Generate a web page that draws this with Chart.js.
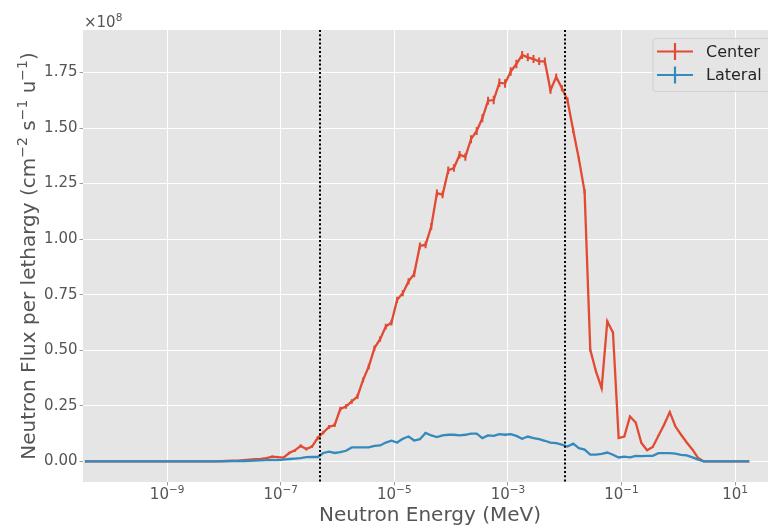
<!DOCTYPE html>
<html lang="en">
<head>
    <meta charset="UTF-8">
    <title>Neutron flux per lethargy</title>
    <script src="https://cdn.jsdelivr.net/npm/chart.js"></script>
    <style>
        html, body {
            margin: 0;
            padding: 0;
            background: #ffffff;
            overflow: hidden;
        }
        .wrap {
            position: relative;
            width: 777px;
            height: 526px;
        }
    </style>
</head>
<body>
    <div class="wrap"><canvas id="chart"></canvas></div>

    <script>
        // energy bin centres (MeV), ten per decade
        const energies = [
            3.55e-11, 4.47e-11, 5.62e-11, 7.08e-11, 8.91e-11,
            1.12e-10, 1.41e-10, 1.78e-10, 2.24e-10, 2.82e-10, 3.55e-10, 4.47e-10, 5.62e-10, 7.08e-10, 8.91e-10,
            1.12e-9, 1.41e-9, 1.78e-9, 2.24e-9, 2.82e-9, 3.55e-9, 4.47e-9, 5.62e-9, 7.08e-9, 8.91e-9,
            1.12e-8, 1.41e-8, 1.78e-8, 2.24e-8, 2.82e-8, 3.55e-8, 4.47e-8, 5.62e-8, 7.08e-8, 8.91e-8,
            1.12e-7, 1.41e-7, 1.78e-7, 2.24e-7, 2.82e-7, 3.55e-7, 4.47e-7, 5.62e-7, 7.08e-7, 8.91e-7,
            1.12e-6, 1.41e-6, 1.78e-6, 2.24e-6, 2.82e-6, 3.55e-6, 4.47e-6, 5.62e-6, 7.08e-6, 8.91e-6,
            1.12e-5, 1.41e-5, 1.78e-5, 2.24e-5, 2.82e-5, 3.55e-5, 4.47e-5, 5.62e-5, 7.08e-5, 8.91e-5,
            1.12e-4, 1.41e-4, 1.78e-4, 2.24e-4, 2.82e-4, 3.55e-4, 4.47e-4, 5.62e-4, 7.08e-4, 8.91e-4,
            1.12e-3, 1.41e-3, 1.78e-3, 2.24e-3, 2.82e-3, 3.55e-3, 4.47e-3, 5.62e-3, 7.08e-3, 8.91e-3,
            1.12e-2, 1.41e-2, 1.78e-2, 2.24e-2, 2.82e-2, 3.55e-2, 4.47e-2, 5.62e-2, 7.08e-2, 8.91e-2,
            0.112, 0.141, 0.178, 0.224, 0.282, 0.355, 0.447, 0.562, 0.708, 0.891,
            1.12, 1.41, 1.78, 2.24, 2.82, 3.55, 4.47, 5.62, 7.08, 8.91,
            11.2, 14.1, 17.8
        ];

        // flux per lethargy, units of 1e8 cm^-2 s^-1 u^-1
        const centerFlux = [
            0, 0, 0, 0, 0,
            0, 0, 0, 0, 0, 0, 0, 0, 0, 0,
            0, 0, 0, 0, 0, 0, 0, 0, 0, 0.001,
            0.002, 0.003, 0.004, 0.006, 0.008, 0.010, 0.012, 0.015, 0.022, 0.019,
            0.017, 0.038, 0.050, 0.070, 0.056, 0.067, 0.105, 0.130, 0.155, 0.164,
            0.236, 0.247, 0.270, 0.292, 0.367, 0.427, 0.510, 0.550, 0.607, 0.625,
            0.727, 0.757, 0.810, 0.844, 0.970, 0.974, 1.057, 1.207, 1.200, 1.310,
            1.320, 1.380, 1.370, 1.450, 1.487, 1.544, 1.623, 1.626, 1.704, 1.700,
            1.754, 1.788, 1.829, 1.818, 1.810, 1.800, 1.800, 1.670, 1.730, 1.680,
            1.625, 1.490, 1.360, 1.214, 0.502, 0.405, 0.330, 0.630, 0.580, 0.105,
            0.112, 0.202, 0.175, 0.083, 0.050, 0.065, 0.116, 0.165, 0.222, 0.157,
            0.120, 0.085, 0.053, 0.015, 0, 0, 0, 0, 0, 0,
            0, 0, 0
        ];
        const centerErr = [
            0, 0, 0, 0, 0,
            0, 0, 0, 0, 0, 0, 0, 0, 0, 0,
            0, 0, 0, 0, 0, 0, 0, 0, 0, 0.001,
            0.001, 0.002, 0.002, 0.002, 0.003, 0.003, 0.003, 0.004, 0.005, 0.005,
            0.005, 0.006, 0.006, 0.007, 0.007, 0.007, 0.008, 0.008, 0.009, 0.009,
            0.010, 0.010, 0.010, 0.011, 0.011, 0.012, 0.012, 0.012, 0.013, 0.013,
            0.014, 0.014, 0.014, 0.015, 0.015, 0.015, 0.016, 0.016, 0.016, 0.017,
            0.017, 0.017, 0.017, 0.018, 0.018, 0.018, 0.018, 0.019, 0.019, 0.019,
            0.019, 0.019, 0.018, 0.018, 0.018, 0.017, 0.017, 0.016, 0.015, 0.014,
            0.013, 0.012, 0.011, 0.010, 0.006, 0.005, 0.004, 0.005, 0.005, 0.002,
            0.002, 0.003, 0.003, 0.002, 0.002, 0.002, 0.002, 0.003, 0.003, 0.002,
            0.002, 0.002, 0.001, 0.001, 0, 0, 0, 0, 0, 0,
            0, 0, 0
        ];
        const lateralFlux = [
            0, 0, 0, 0, 0,
            0, 0, 0, 0, 0, 0, 0, 0, 0, 0,
            0, 0, 0, 0, 0, 0, 0, 0, 0, 0,
            0.001, 0.001, 0.001, 0.002, 0.003, 0.004, 0.005, 0.006, 0.007, 0.006,
            0.008, 0.011, 0.013, 0.015, 0.019, 0.020, 0.020, 0.038, 0.044, 0.038,
            0.042, 0.048, 0.063, 0.063, 0.063, 0.063, 0.070, 0.072, 0.085, 0.093,
            0.085, 0.102, 0.112, 0.094, 0.100, 0.128, 0.117, 0.110, 0.117, 0.120,
            0.120, 0.117, 0.120, 0.125, 0.125, 0.105, 0.117, 0.115, 0.123, 0.120,
            0.123, 0.115, 0.102, 0.112, 0.105, 0.100, 0.093, 0.085, 0.082, 0.076,
            0.067, 0.080, 0.060, 0.053, 0.031, 0.031, 0.034, 0.040, 0.030, 0.018,
            0.022, 0.018, 0.025, 0.024, 0.025, 0.025, 0.037, 0.037, 0.037, 0.035,
            0.030, 0.027, 0.018, 0.008, 0, 0, 0, 0, 0, 0,
            0, 0, 0
        ];
        const lateralErr = [
            0, 0, 0, 0, 0,
            0, 0, 0, 0, 0, 0, 0, 0, 0, 0,
            0, 0, 0, 0, 0, 0, 0, 0, 0, 0,
            0, 0, 0, 0.001, 0.001, 0.001, 0.001, 0.001, 0.001, 0.001,
            0.001, 0.001, 0.001, 0.002, 0.002, 0.002, 0.002, 0.002, 0.002, 0.002,
            0.002, 0.002, 0.002, 0.002, 0.002, 0.002, 0.002, 0.002, 0.002, 0.002,
            0.003, 0.003, 0.003, 0.003, 0.003, 0.003, 0.003, 0.003, 0.003, 0.003,
            0.003, 0.003, 0.003, 0.003, 0.003, 0.003, 0.003, 0.003, 0.003, 0.003,
            0.003, 0.003, 0.003, 0.003, 0.003, 0.003, 0.003, 0.003, 0.003, 0.003,
            0.002, 0.002, 0.002, 0.002, 0.002, 0.002, 0.002, 0.002, 0.002, 0.002,
            0.001, 0.001, 0.001, 0.001, 0.001, 0.001, 0.001, 0.001, 0.001, 0.001,
            0.001, 0.001, 0.001, 0, 0, 0, 0, 0, 0, 0,
            0, 0, 0
        ];

        const xTicks = [1e-9, 1e-7, 1e-5, 1e-3, 1e-1, 1e1];
        const xTickExponents = ['−9', '−7', '−5', '−3', '−1', '1'];
        const yTicks = [0, 0.25, 0.5, 0.75, 1.0, 1.25, 1.5, 1.75];
        const markerEnergies = [5e-7, 1e-2];   // dotted vertical lines

        const xTitle = 'Neutron Energy (MeV)';
        // y label pieces: [text, superscript?]
        const yTitleParts = [
            ['Neutron Flux per lethargy (cm', false], ['−2', true],
            [' s', false], ['−1', true],
            [' u', false], ['−1', true], [')', false]
        ];

        const red = '#E24A33';
        const blue = '#348ABD';
        const tickGrey = '#555555';
        const FONT = "'DejaVu Sans', sans-serif";

        Chart.defaults.font.family = FONT;
        Chart.defaults.color = tickGrey;

        const toPoints = (ys) => energies.map((e, i) => ({ x: e, y: ys[i] }));

        // draws text pieces with superscripts, centred on (0, 0) of current transform
        function drawRich(ctx, parts, size, supSize, supRise) {
            const widths = parts.map(([t, sup]) => {
                ctx.font = (sup ? supSize : size) + 'px ' + FONT;
                return ctx.measureText(t).width;
            });
            const total = widths.reduce((a, b) => a + b, 0);
            let x = -total / 2;
            parts.forEach(([t, sup], i) => {
                ctx.font = (sup ? supSize : size) + 'px ' + FONT;
                ctx.fillText(t, x, sup ? -supRise : 0);
                x += widths[i];
            });
        }

        const plotBg = {
            id: 'plotBg',
            beforeDraw(chart) {
                const { ctx, chartArea: a } = chart;
                ctx.save();
                ctx.fillStyle = '#E5E5E5';
                ctx.fillRect(a.left, a.top, a.right - a.left, a.bottom - a.top);
                ctx.restore();
            }
        };

        const errorBars = {
            id: 'errorBars',
            afterDatasetDraw(chart, args) {
                const ds = chart.data.datasets[args.index];
                if (!ds.errors) return;
                const { ctx, chartArea: a } = chart;
                const xs = chart.scales.x, ys = chart.scales.y;
                ctx.save();
                ctx.beginPath();
                ctx.rect(a.left, a.top, a.right - a.left, a.bottom - a.top);
                ctx.clip();
                ctx.strokeStyle = ds.borderColor;
                ctx.lineWidth = 2;
                ctx.beginPath();
                ds.data.forEach((p, i) => {
                    const e = ds.errors[i];
                    if (!e) return;
                    const px = xs.getPixelForValue(p.x);
                    ctx.moveTo(px, ys.getPixelForValue(p.y - e));
                    ctx.lineTo(px, ys.getPixelForValue(p.y + e));
                });
                ctx.stroke();
                ctx.restore();
            }
        };

        const markerLines = {
            id: 'markerLines',
            afterDatasetsDraw(chart) {
                const { ctx, chartArea: a } = chart;
                ctx.save();
                ctx.strokeStyle = '#000000';
                ctx.lineWidth = 2;
                ctx.setLineDash([2, 2.2]);
                markerEnergies.forEach(e => {
                    const px = Math.round(chart.scales.x.getPixelForValue(e));
                    ctx.beginPath();
                    ctx.moveTo(px, a.top);
                    ctx.lineTo(px, a.bottom);
                    ctx.stroke();
                });
                ctx.restore();
            }
        };

        const extras = {
            id: 'extras',
            afterDraw(chart) {
                const { ctx, chartArea: a } = chart;
                const xs = chart.scales.x;
                ctx.save();
                ctx.fillStyle = tickGrey;
                ctx.textBaseline = 'alphabetic';

                // x tick labels 10^n
                xTicks.forEach((v, i) => {
                    ctx.save();
                    ctx.translate(xs.getPixelForValue(v), 499);
                    drawRich(ctx, [['10', false], [xTickExponents[i], true]], 15, 10.5, 6.5);
                    ctx.restore();
                });

                // x title
                ctx.font = '20px ' + FONT;
                ctx.textAlign = 'center';
                ctx.fillText(xTitle, (a.left + a.right) / 2, 521);
                ctx.textAlign = 'left';

                // y title, rotated
                ctx.save();
                ctx.translate(35, (a.top + a.bottom) / 2);
                ctx.rotate(-Math.PI / 2);
                drawRich(ctx, yTitleParts, 20, 14, 8);
                ctx.restore();

                // offset text
                ctx.font = '15px ' + FONT;
                ctx.fillText('×10', a.left + 1, 27);
                const w = ctx.measureText('×10').width;
                ctx.font = '10.5px ' + FONT;
                ctx.fillText('8', a.left + 1 + w, 21);

                // legend
                const bx = 653, by = 38.5, bw = 117, bh = 53, r = 3;
                ctx.beginPath();
                ctx.roundRect(bx, by, bw, bh, r);
                ctx.fillStyle = 'rgba(229,229,229,0.8)';
                ctx.fill();
                ctx.strokeStyle = 'rgba(204,204,204,0.8)';
                ctx.lineWidth = 1;
                ctx.stroke();
                const items = [
                    { label: chart.data.datasets[0].label, color: red, y: 51.5 },
                    { label: chart.data.datasets[1].label, color: blue, y: 75 }
                ];
                items.forEach(it => {
                    ctx.strokeStyle = it.color;
                    ctx.lineWidth = 2.2;
                    ctx.beginPath();
                    ctx.moveTo(657, it.y);
                    ctx.lineTo(693, it.y);
                    ctx.moveTo(675, it.y - 8.5);
                    ctx.lineTo(675, it.y + 8.5);
                    ctx.stroke();
                    ctx.fillStyle = '#262626';
                    ctx.font = '16px ' + FONT;
                    ctx.textBaseline = 'middle';
                    ctx.fillText(it.label, 706, it.y + 1);
                });
                ctx.restore();
            }
        };

        const ctx = document.getElementById('chart').getContext('2d');
        const chart = new Chart(ctx, {
            type: 'line',
            data: {
                datasets: [
                    {
                        label: 'Center',
                        data: toPoints(centerFlux),
                        errors: centerErr,
                        borderColor: red,
                        backgroundColor: red,
                        borderWidth: 2.3,
                        pointRadius: 0,
                        tension: 0,
                        order: 2
                    },
                    {
                        label: 'Lateral',
                        data: toPoints(lateralFlux),
                        errors: lateralErr,
                        borderColor: blue,
                        backgroundColor: blue,
                        borderWidth: 2.3,
                        pointRadius: 0,
                        tension: 0,
                        order: 1
                    }
                ]
            },
            options: {
                responsive: true,
                maintainAspectRatio: false,
                animation: false,
                layout: { padding: { top: 30, left: 0, right: 0, bottom: 0 } },
                plugins: {
                    legend: { display: false },
                    tooltip: { enabled: false }
                },
                scales: {
                    x: {
                        type: 'logarithmic',
                        min: 3.3e-11,
                        max: 54.7,
                        afterBuildTicks: (s) => { s.ticks = xTicks.map(v => ({ value: v })); },
                        afterFit: (s) => { s.height = 44; },
                        border: { display: false },
                        grid: {
                            color: '#ffffff',
                            lineWidth: 1,
                            drawTicks: true,
                            tickLength: 3.5,
                            tickColor: '#9a9a9a'
                        },
                        ticks: {
                            autoSkip: false,
                            maxRotation: 0,
                            font: { size: 15 },
                            callback: () => ''
                        }
                    },
                    y: {
                        type: 'linear',
                        min: -0.0925,
                        max: 1.941,
                        afterBuildTicks: (s) => { s.ticks = yTicks.map(v => ({ value: v })); },
                        afterFit: (s) => { s.width = 83; },
                        border: { display: false },
                        grid: {
                            color: '#ffffff',
                            lineWidth: 1,
                            drawTicks: true,
                            tickLength: 3.5,
                            tickColor: '#9a9a9a'
                        },
                        ticks: {
                            padding: 2,
                            font: { size: 15 },
                            color: tickGrey,
                            callback: (v) => v.toFixed(2)
                        }
                    }
                }
            },
            plugins: [plotBg, errorBars, markerLines, extras]
        });
    </script>
</body>
</html>
